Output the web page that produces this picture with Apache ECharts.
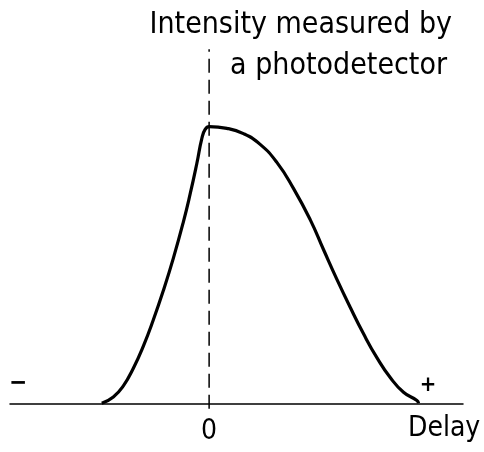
<!DOCTYPE html>
<html lang="en">
<head>
    <meta charset="UTF-8" />
    <title>Intensity vs delay</title>
    <script src="https://cdn.jsdelivr.net/npm/echarts@6/dist/echarts.min.js"></script>
</head>
<style>
    * {
        margin: 0;
        padding: 0;
    }

    #main {
        width: 484px;
        height: 452px;
        background: #fff;
    }
</style>
<body>
    <div id="main"></div>
</body>
<script>
    // delay (arbitrary units) and intensity
    const delay = [-2.157, -1.924, -1.723, -1.522, -1.321, -1.12, -0.919, -0.718, -0.517, -0.382, -0.247, -0.147, -0.08, 0,
        0.356, 0.689, 1.025, 1.361, 1.694, 2.03, 2.297, 2.567, 2.834, 3.102, 3.37, 3.638, 3.905, 4.175, 4.207];
    const intensity = [0, 0.023, 0.063, 0.127, 0.207, 0.302, 0.408, 0.525, 0.656, 0.756, 0.867, 0.957, 0.99, 1.0,
        0.994, 0.975, 0.936, 0.871, 0.777, 0.664, 0.556, 0.448, 0.347, 0.251, 0.165, 0.093, 0.04, 0.01, 0];
    // vertical dashed marker at zero delay
    const markerX = [0, 0];
    const markerY = [-0.02, 1.28];
    const tickLabels = { 0: "0" };

    const font = '"DejaVu Sans Condensed", "DejaVu Sans", sans-serif';
    var myChart = echarts.init(document.getElementById("main"));
    var option = {
        animation: false,
        grid: { left: 10, right: 21, top: 43.7, bottom: 48.7 },
        xAxis: {
            type: "value",
            min: -4,
            max: 5.1,
            interval: 1,
            splitLine: { show: false },
            axisTick: { show: false },
            axisLine: { lineStyle: { color: "#000", width: 1.5 } },
            axisLabel: {
                formatter: (v) => tickLabels[v] || "",
                color: "#000",
                fontFamily: font,
                fontSize: 28,
                margin: 14,
                showMinLabel: false,
                showMaxLabel: false,
            },
        },
        yAxis: {
            type: "value",
            min: 0,
            max: 1.3,
            show: false,
        },
        series: [
            {
                type: "line",
                data: delay.map((d, i) => [d, intensity[i]]),
                smooth: 0.5,
                symbol: "none",
                lineStyle: { color: "#000", width: 3.2 },
            },
            {
                type: "line",
                data: markerX.map((d, i) => [d, markerY[i]]),
                symbol: "none",
                clip: false,
                lineStyle: { color: "#000", width: 1.5, type: [14, 7] },
            },
        ],
        graphic: [
            { type: "text", x: 452, y: 25, style: { text: "Intensity measured by", font: "30px " + font, fill: "#000", align: "right", verticalAlign: "middle" } },
            { type: "text", x: 447, y: 66, style: { text: "a photodetector", font: "30px " + font, fill: "#000", align: "right", verticalAlign: "middle" } },
            { type: "text", x: 408, y: 429, style: { text: "Delay", font: "28px " + font, fill: "#000", align: "left", verticalAlign: "middle" } },
            { type: "text", x: 18, y: 384, style: { text: "−", font: "bold 24px " + font, fill: "#000", align: "center", verticalAlign: "middle" } },
            { type: "text", x: 428, y: 385, style: { text: "+", font: "bold 22px " + font, fill: "#000", align: "center", verticalAlign: "middle" } },
        ],
    };
    option && myChart.setOption(option);
</script>
</html>
